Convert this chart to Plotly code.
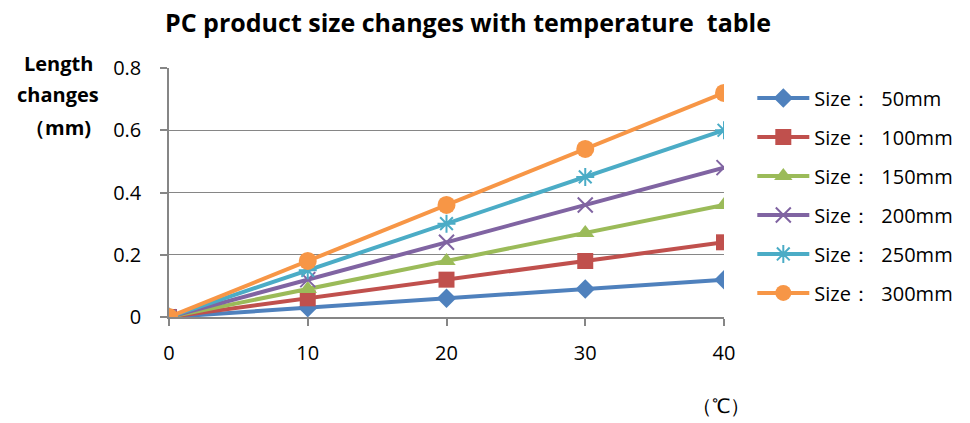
import plotly.graph_objects as go

temps = [0, 10, 20, 30, 40]
names = ["Size：  50mm", "Size：  100mm", "Size：  150mm", "Size：  200mm", "Size：  250mm", "Size：  300mm"]
s50 = [0, 0.03, 0.06, 0.09, 0.12]
s100 = [0, 0.06, 0.12, 0.18, 0.24]
s150 = [0, 0.09, 0.18, 0.27, 0.36]
s200 = [0, 0.12, 0.24, 0.36, 0.48]
s250 = [0, 0.15, 0.30, 0.45, 0.60]
s300 = [0, 0.18, 0.36, 0.54, 0.72]
series = [s50, s100, s150, s200, s250, s300]
ytickvals = [0, 0.2, 0.4, 0.6, 0.8]
yticktext = ["0", "0.2", "0.4", "0.6", "0.8"]
colors = ["#4F81BD", "#C0504D", "#9BBB59", "#8064A2", "#4BACC6", "#F79646"]
symbols = ["diamond", "square", "triangle-up", "x-thin", "asterisk", "circle"]
sizes = [15, 16, 16, 15, 15, 18]

fig = go.Figure()
for i, (nm, ys) in enumerate(zip(names, series)):
    thin = symbols[i] in ("x-thin", "asterisk")
    fig.add_trace(go.Scatter(
        x=temps, y=ys, name=nm, mode="lines+markers",
        line=dict(color=colors[i], width=4),
        marker=dict(symbol=symbols[i], size=sizes[i], color=colors[i],
                    line=dict(color=colors[i], width=2 if thin else 0)),
        legendgroup=str(i),
    ))

font = "'Open Sans', Lato, sans-serif"
fig.update_layout(
    width=962, height=415,
    margin=dict(l=161, r=242, t=60, b=106),
    paper_bgcolor="white", plot_bgcolor="white",
    font=dict(family=font, size=20, color="black"),
    showlegend=True,
    legend=dict(x=1.051, xanchor="left", y=0.958, yanchor="top",
                font=dict(size=20), itemwidth=52, tracegroupgap=10,
                traceorder="grouped", bgcolor="rgba(0,0,0,0)"),
    xaxis=dict(range=[0, 40], tickvals=temps, showgrid=False, zeroline=False,
               showline=True, linecolor="#868686", linewidth=1.5,
               ticks="outside", ticklen=7, tickcolor="#868686", tickwidth=1.5,
               tickfont=dict(size=20), ticklabelstandoff=10),
    yaxis=dict(range=[0, 0.8], tickvals=ytickvals, ticktext=yticktext,
               showgrid=True, gridcolor="#868686", gridwidth=1, zeroline=False,
               showline=True, linecolor="#868686", linewidth=1.5,
               ticks="outside", ticklen=7, tickcolor="#868686", tickwidth=1.5,
               tickfont=dict(size=20), ticklabelstandoff=15),
)
fig.add_annotation(text="<b>PC product size changes with temperature  table</b>",
                   xref="paper", yref="paper", x=0.5385, y=1.185,
                   xanchor="center", yanchor="middle", showarrow=False,
                   font=dict(size=25))
for txt, yy in [("Length", 1.020), ("changes", 0.892), ("（mm)", 0.763)]:
    fig.add_annotation(text="<b>" + txt + "</b>", xref="paper", yref="paper",
                       x=-0.2, y=yy, xanchor="center", yanchor="middle", showarrow=False,
                       font=dict(size=20))
fig.add_annotation(text="（℃）", xref="paper", yref="paper",
                   x=0.9946, y=-0.357, xanchor="center", yanchor="middle", showarrow=False,
                   font=dict(size=20))
fig.write_html("out.html")
